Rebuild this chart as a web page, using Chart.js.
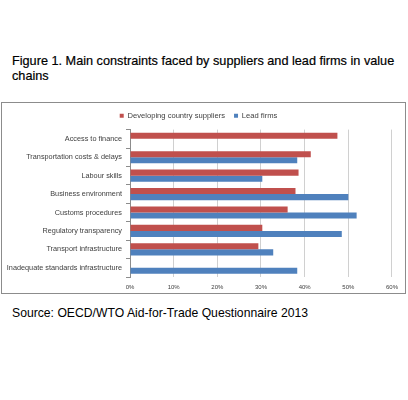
<!DOCTYPE html>
<html>
<head>
<meta charset="utf-8">
<script src="https://cdn.jsdelivr.net/npm/chart.js@4/dist/chart.umd.min.js"></script>
<style>
  body { margin: 0; background: #fff; width: 408px; height: 400px; position: relative; font-family: 'Liberation Sans', Arial, sans-serif; }
  #title { position: absolute; left: 12px; top: 54px; width: 396px; font-size: 12.7px; line-height: 15px; color: #000; -webkit-text-stroke: 0.2px #000; }
  #box { position: absolute; left: 1px; top: 102px; width: 405px; height: 192px; border: 1px solid #8c8c8c; box-sizing: border-box; }
  #source { position: absolute; left: 12px; top: 306px; font-size: 12.2px; color: #000; }
</style>
</head>
<body>
<div id="title">Figure 1. Main constraints faced by suppliers and lead firms in value chains</div>
<div id="box"><canvas id="chart"></canvas></div>
<div id="source">Source: OECD/WTO Aid-for-Trade Questionnaire 2013</div>
<script>
const categories = [
    'Access to finance',
    'Transportation costs & delays',
    'Labour skills',
    'Business environment',
    'Customs procedures',
    'Regulatory transparency',
    'Transport infrastructure',
    'Inadequate standards infrastructure'
];
const suppliers = [47.5, 41.4, 38.6, 37.9, 36.1, 30.3, 29.4, null];
const leadFirms = [null, 38.3, 30.3, 50.0, 51.9, 48.5, 32.8, 38.3];
const xTicks = [0, 10, 20, 30, 40, 50, 60];

const ctx = document.getElementById('chart').getContext('2d');

new Chart(ctx, {
    type: 'bar',
    data: {
        labels: categories,
        datasets: [
            {
                label: 'Developing country suppliers',
                data: suppliers,
                backgroundColor: '#c0504d',
                borderWidth: 0,
                barPercentage: 1,
                categoryPercentage: 0.66,
            },
            {
                label: 'Lead firms',
                data: leadFirms,
                backgroundColor: '#4f81bd',
                borderWidth: 0,
                barPercentage: 1,
                categoryPercentage: 0.66,
            }
        ]
    },
    options: {
        indexAxis: 'y',
        responsive: true,
        maintainAspectRatio: false,
        animation: false,
        layout: { padding: { left: 0, right: 10, top: 0, bottom: 0 } },
        plugins: {
            legend: {
                position: 'top',
                labels: {
                    boxWidth: 4,
                    boxHeight: 4,
                    padding: 9,
                    color: '#404040',
                    font: { family: 'Liberation Sans', size: 7.6 }
                }
            },
            tooltip: { enabled: false }
        },
        scales: {
            x: {
                min: 0,
                max: 60,
                afterBuildTicks: (axis) => {
                    axis.ticks = xTicks.map(v => ({ value: v }));
                },
                afterFit: (axis) => { axis.height = 16; },
                ticks: {
                    color: '#404040',
                    padding: 7,
                    maxRotation: 0,
                    font: { family: 'Liberation Sans', size: 6 },
                    callback: (v) => v + '%'
                },
                grid: { color: '#d0d0d0', drawTicks: false },
                border: { display: false }
            },
            y: {
                afterFit: (axis) => { axis.width = 128; },
                ticks: {
                    color: '#404040',
                    padding: 4,
                    font: { family: 'Liberation Sans', size: 7.3 }
                },
                grid: { drawOnChartArea: false, color: '#8c8c8c', tickLength: 4, offset: true },
                border: { color: '#8c8c8c' }
            }
        }
    }
});
</script>
</body>
</html>
